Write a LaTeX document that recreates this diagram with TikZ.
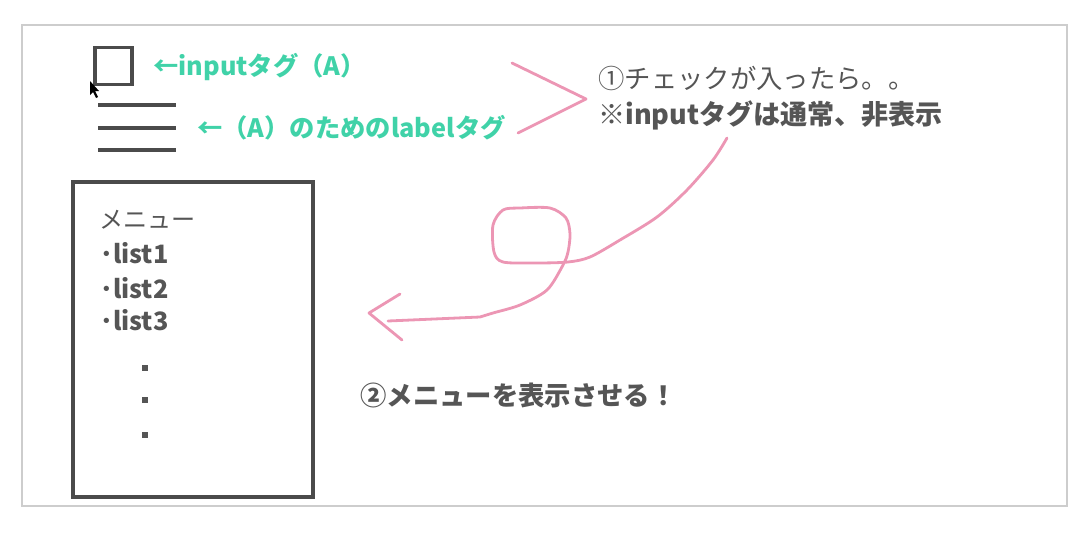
\documentclass[tikz,border=0pt]{standalone}
\usepackage{fontspec}
\setmainfont{Noto Sans CJK JP}
\usetikzlibrary{positioning}
\definecolor{inkgrey}{RGB}{85,85,85}
\definecolor{boxgrey}{RGB}{75,75,75}
\definecolor{framegrey}{RGB}{205,205,205}
\definecolor{tealtext}{RGB}{64,210,168}
\definecolor{pinkpen}{RGB}{236,150,180}

\begin{document}
\begin{tikzpicture}[x=0.02cm, y=-0.02cm,
        txt/.style={anchor=west, inner sep=0pt, font=\fontsize{13.7}{16}\selectfont, text=inkgrey},
        btxt/.style={txt, font=\fontsize{14.4}{17}\selectfont\bfseries},
        note/.style={txt, font=\fontsize{15}{18}\selectfont},
        tag/.style={btxt, text=tealtext},
        box/.style={draw=boxgrey, line width=2pt},
        pen/.style={draw=pinkpen, line width=1.6pt, line cap=round, line join=round}
    ]
    \useasboundingbox (0,0) rectangle (1088,534);
    \draw[framegrey, line width=1pt] (22,25) rectangle (1067,506);
    \node[box, minimum size=0.74cm, inner sep=0pt] (chk) at (113.5,66) {};
    \fill[black] (90,81) -- (90,95) -- (93,92) -- (96,98) -- (98,97) -- (95,91) -- (99,91) -- cycle;
    \foreach \y in {105,128,150}
        \draw[box] (98,\y) -- (176,\y);
    \node[tag] (inp) at (153,67) {←inputタグ（A）};
    \node[tag] (lbl) at (197,128) {←（A）のためのlabelタグ};
    \draw[pen] (512,63) -- (586,99) -- (518,133);
    \node[note] (n1) at (598,78) {①チェックが入ったら。。};
    \node[note, font=\fontsize{15.4}{18}\selectfont\bfseries] (n1b) at (598,115) {※inputタグは通常、非表示};
    \node[box, minimum width=4.8cm, minimum height=6.3cm] (menu) at (193,339.5) {};
    \node[txt] (mt) at (99,220) {メニュー};
    \node[btxt] (l1) at (100,253) {･list1};
    \node[btxt] (l2) at (100,288) {･list2};
    \node[btxt] (l3) at (100,320) {･list3};
    \foreach \y in {368,400,435}
        \fill[inkgrey] (142,\y-3) rectangle (148,\y+3);
    \coordinate (cs) at (727,138);
    \coordinate (ce) at (388,321);
    \draw[pen] plot[smooth, tension=0.5] coordinates {(727,138) (713,160) (687,190) (657,217) (620,240)
        (590,257) (568,262) (535,263) (503,262) (494,252) (493,225) (503,210) (520,208) (550,208)
        (566,218) (570,234) (568,252) (563,265) (547,290) (520,305) (493,313) (480,317)} -- (ce);
    \draw[pen] (400,294) -- (369,313) -- (402,340);
    \node[note, font=\fontsize{15}{18}\selectfont\bfseries] (n2) at (360,395) {②メニューを表示させる！};
\end{tikzpicture}
\end{document}
